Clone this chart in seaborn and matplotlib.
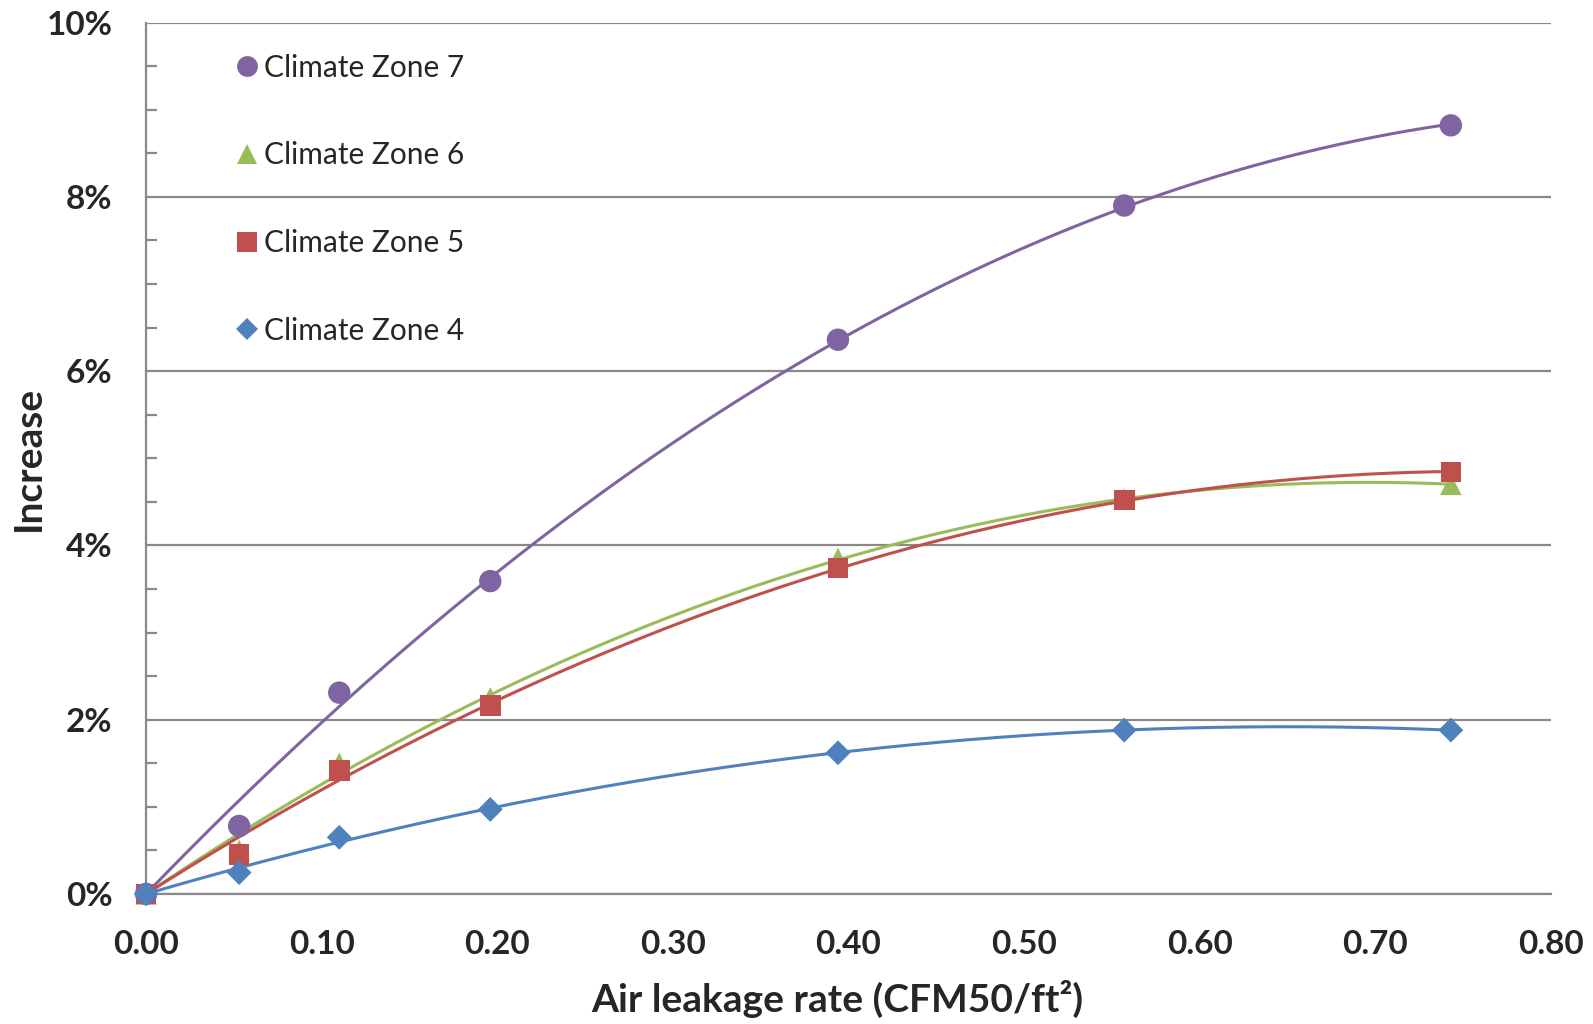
import numpy as np
import pandas as pd
import matplotlib
matplotlib.use("Agg")
import matplotlib.pyplot as plt
import seaborn as sns
from matplotlib.ticker import MultipleLocator, FuncFormatter
from matplotlib.lines import Line2D

# ---- data (values in percent) ----
leak_rate = [0.000, 0.053, 0.110, 0.196, 0.394, 0.557, 0.743]
zone7 = [0.00, 0.78, 2.31, 3.59, 6.36, 7.90, 8.82]
zone6 = [0.00, 0.50, 1.50, 2.25, 3.85, 4.53, 4.70]
zone5 = [0.00, 0.45, 1.42, 2.16, 3.74, 4.52, 4.84]
zone4 = [0.00, 0.245, 0.65, 0.97, 1.62, 1.88, 1.88]
zone_names = ["Climate Zone 7", "Climate Zone 6", "Climate Zone 5", "Climate Zone 4"]
x_ticks = [0.0, 0.1, 0.2, 0.3, 0.4, 0.5, 0.6, 0.7, 0.8]
y_ticks = [0, 2, 4, 6, 8, 10]

series = {
    "Climate Zone 7": zone7,
    "Climate Zone 6": zone6,
    "Climate Zone 5": zone5,
    "Climate Zone 4": zone4,
}
colors = {
    "Climate Zone 7": "#8064A2",
    "Climate Zone 6": "#9BBB59",
    "Climate Zone 5": "#C0504D",
    "Climate Zone 4": "#4F81BD",
}
markers = {
    "Climate Zone 7": "o",
    "Climate Zone 6": "^",
    "Climate Zone 5": "s",
    "Climate Zone 4": "D",
}
msize = {
    "Climate Zone 7": 260,
    "Climate Zone 6": 240,
    "Climate Zone 5": 220,
    "Climate Zone 4": 160,
}

rows = []
for name, vals in series.items():
    for x, y in zip(leak_rate, vals):
        rows.append({"x": x, "y": y, "zone": name})
df = pd.DataFrame(rows)

# quadratic trendlines through origin (fitted to the data)
xs = np.array(leak_rate)
xfit = np.linspace(0, max(leak_rate), 300)
trend_rows = []
for name, vals in series.items():
    A = np.vstack([xs, xs ** 2]).T
    coef, *_ = np.linalg.lstsq(A, np.array(vals), rcond=None)
    yfit = coef[0] * xfit + coef[1] * xfit ** 2
    for a, b in zip(xfit, yfit):
        trend_rows.append({"x": a, "y": b, "zone": name})
trend = pd.DataFrame(trend_rows)

sns.set_theme(style="white")
plt.rcParams["font.family"] = ["Lato", "DejaVu Sans"]

fig = plt.figure(figsize=(15.93, 10.24), dpi=100)
ax = fig.add_axes([0.0917, 0.127, 0.8819, 0.851])

gray = "#898989"
ax.set_axisbelow(True)
ax.yaxis.grid(True, color=gray, lw=1.6)
ax.xaxis.grid(False)

# trendlines
for name in ["Climate Zone 6", "Climate Zone 5", "Climate Zone 7", "Climate Zone 4"]:
    sub = trend[trend.zone == name]
    sns.lineplot(data=sub, x="x", y="y", color=colors[name], lw=2.2, ax=ax,
                 legend=False, sort=True, estimator=None, zorder=3)

# markers
for name in ["Climate Zone 6", "Climate Zone 5", "Climate Zone 7", "Climate Zone 4"]:
    sub = df[df.zone == name]
    sns.scatterplot(data=sub, x="x", y="y", color=colors[name], marker=markers[name],
                    s=msize[name], edgecolor="none", ax=ax, legend=False, zorder=4,
                    clip_on=False)

ax.set_xlim(0, 0.8)
ax.set_ylim(0, 10)
ax.set_xticks(x_ticks)
ax.set_yticks(y_ticks)
ax.yaxis.set_minor_locator(MultipleLocator(0.5))
ax.xaxis.set_major_formatter(FuncFormatter(lambda v, p: f"{v:.2f}"))
ax.yaxis.set_major_formatter(FuncFormatter(lambda v, p: f"{v:.0f}%"))

for s in ["top", "right"]:
    ax.spines[s].set_visible(False)
for s in ["left", "bottom"]:
    ax.spines[s].set_color(gray)
    ax.spines[s].set_linewidth(1.6)

ax.tick_params(axis="x", which="major", direction="out", length=10, width=1.6,
               color=gray, pad=16, labelsize=24)
ax.tick_params(axis="y", which="major", direction="out", length=10, width=1.6,
               color=gray, pad=14, labelsize=24)
ax.tick_params(axis="y", which="minor", direction="in", length=8, width=1.6,
               color=gray, left=True)
for lab in ax.get_xticklabels() + ax.get_yticklabels():
    lab.set_fontweight("bold")

ax.set_xlabel("Air leakage rate (CFM50/ft²)", fontsize=28, fontweight="bold")
ax.set_ylabel("Increase", fontsize=28, fontweight="bold")
# place axis labels (axes fraction coordinates)
ax.xaxis.set_label_coords(0.492, -0.099)
ax.yaxis.set_label_coords(-0.071, 0.5)

handles = [Line2D([0], [0], linestyle="none", marker=markers[n], color=colors[n],
                  markersize=(15 if n != "Climate Zone 4" else 11.5), markeredgewidth=0)
           for n in zone_names]
leg = ax.legend(handles, zone_names, loc="upper left", bbox_to_anchor=(0.053, 0.978),
                frameon=False, fontsize=21.5, labelspacing=2.0, handletextpad=0.05,
                handlelength=1.0, borderaxespad=0)

fig.savefig("out.png", dpi=100)
